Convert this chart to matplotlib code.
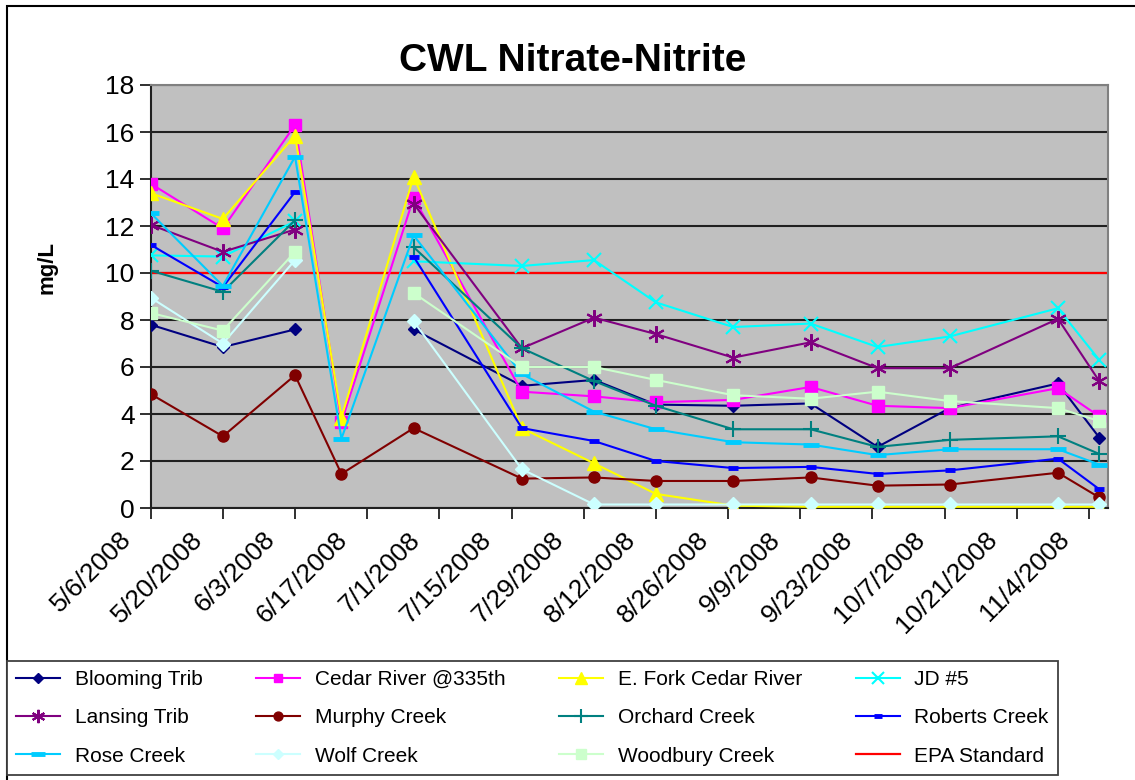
import datetime as dt
import numpy as np
import matplotlib
matplotlib.use("Agg")
import matplotlib.pyplot as plt
import matplotlib.dates as mdates
import matplotlib.transforms as mtransforms
from matplotlib.patches import Rectangle

plt.rcParams['font.family'] = ['Liberation Sans', 'DejaVu Sans']

nan = np.nan
dates = [dt.date(2008, 5, 6), dt.date(2008, 5, 20), dt.date(2008, 6, 3), dt.date(2008, 6, 12),
         dt.date(2008, 6, 26), dt.date(2008, 7, 17), dt.date(2008, 7, 31), dt.date(2008, 8, 12),
         dt.date(2008, 8, 27), dt.date(2008, 9, 11), dt.date(2008, 9, 24), dt.date(2008, 10, 8),
         dt.date(2008, 10, 29), dt.date(2008, 11, 6)]

blooming = [7.8, 6.85, 7.6, nan, 7.6, 5.2, 5.45, 4.4, 4.35, 4.45, 2.6, 4.25, 5.3, 3.0]
cedar = [13.8, 11.9, 16.3, 3.65, 13.2, 4.95, 4.75, 4.5, 4.6, 5.15, 4.35, 4.25, 5.1, 3.9]
efork = [13.4, 12.3, 15.85, 3.85, 14.1, 3.4, 1.9, 0.6, 0.1, 0.05, 0.05, 0.05, 0.05, 0.05]
jd5 = [10.75, 10.7, 12.2, nan, 10.5, 10.3, 10.55, 8.75, 7.7, 7.85, 6.85, 7.3, 8.5, 6.3]
lansing = [12.05, 10.9, 11.85, nan, 12.95, 6.8, 8.1, 7.4, 6.4, 7.05, 5.95, 5.95, 8.05, 5.4]
murphy = [4.85, 3.05, 5.65, 1.45, 3.4, 1.25, 1.3, 1.15, 1.15, 1.3, 0.95, 1.0, 1.5, 0.45]
orchard = [10.1, 9.2, 12.25, nan, 11.1, 6.8, 5.4, 4.35, 3.35, 3.35, 2.6, 2.9, 3.05, 2.3]
roberts = [11.2, 9.4, 13.45, nan, 10.7, 3.4, 2.85, 2.0, 1.7, 1.75, 1.45, 1.6, 2.1, 0.8]
rose = [12.55, 9.45, 14.95, 2.95, 11.6, 5.7, 4.1, 3.35, 2.8, 2.7, 2.25, 2.5, 2.5, 1.85]
wolf = [8.95, 7.0, 10.55, nan, 7.95, 1.65, 0.15, 0.15, 0.15, 0.15, 0.15, 0.15, 0.15, 0.15]
woodbury = [8.3, 7.55, 10.9, nan, 9.15, 6.0, 6.0, 5.45, 4.8, 4.65, 4.95, 4.55, 4.25, 3.7]
epa_standard = 10

names = ["Blooming Trib", "Cedar River @335th", "E. Fork Cedar River", "JD #5",
         "Lansing Trib", "Murphy Creek", "Orchard Creek", "Roberts Creek",
         "Rose Creek", "Wolf Creek", "Woodbury Creek"]
series = [blooming, cedar, efork, jd5, lansing, murphy, orchard, roberts, rose, wolf, woodbury]

# color, marker, markersize, marker edge width
styles = [
    ("#000080", "D", 6, 1),
    ("#FF00FF", "s", 8, 1),
    ("#FFFF00", "^", 10, 1),
    ("#00FFFF", "x", 10, 1.5),
    ("#800080", (6, 2, 0), 12, 1.5),
    ("#800000", "o", 8, 1),
    ("#008080", "+", 12, 1.5),
    ("#0000FF", "_", 7, 3.5),
    ("#00CCFF", "_", 12, 3.5),
    ("#CCFFFF", "D", 7, 1),
    ("#CCFFCC", "s", 9, 1),
]

fig = plt.figure(figsize=(11.35, 7.8), dpi=100)
ax = fig.add_axes([150.7 / 1135, 1 - 508 / 780, (1108 - 150.7) / 1135, (508 - 85) / 780])
ax.set_facecolor("#C0C0C0")

handles = []
for name, vals, (c, m, ms, mew) in zip(names, series, styles):
    h, = ax.plot(dates, vals, color=c, lw=1.5, marker=m, ms=ms, mew=mew,
                 mec=c, mfc=c, label=name, zorder=3)
    handles.append(h)
epa, = ax.plot([dates[0] - dt.timedelta(days=5), dates[-1] + dt.timedelta(days=10)],
               [epa_standard, epa_standard], color="#FF0000", lw=1.6, label="EPA Standard", zorder=2)
handles.append(epa)

x0 = mdates.date2num(dt.date(2008, 5, 6))
ax.set_xlim(x0, x0 + 185.7)
ax.set_ylim(0, 18)
ax.set_yticks(np.arange(0, 19, 2))
ax.yaxis.grid(True, color="#202020", lw=1.5)
ax.set_axisbelow(True)

ticks = [dt.date(2008, 5, 6) + dt.timedelta(days=14 * i) for i in range(14)]
ax.set_xticks(ticks)
ax.set_xticklabels([f"{d.month}/{d.day}/{d.year}" for d in ticks], rotation=45, ha="right")
ax.tick_params(axis="both", labelsize=19, direction="out", length=8, width=1.3, color="#202020")
ax.tick_params(axis="x", pad=6)
shift = mtransforms.ScaledTranslation(-15 / 100, 0, fig.dpi_scale_trans)
for lbl in ax.get_xticklabels():
    lbl.set_transform(lbl.get_transform() + shift)

for s in ["top", "right"]:
    ax.spines[s].set_color("#808080")
    ax.spines[s].set_linewidth(1.5)
for s in ["left", "bottom"]:
    ax.spines[s].set_color("#202020")
    ax.spines[s].set_linewidth(1.5)

fig.text(573 / 1135, 1 - 61 / 780, "CWL Nitrate-Nitrite", fontsize=28, fontweight="bold",
         ha="center", va="center")
fig.text(47 / 1135, 1 - 268 / 780, "mg/L", fontsize=16, fontweight="bold", rotation=90,
         ha="center", va="center")

# chart frame
fig.add_artist(Rectangle((7 / 1135, -0.02), 1.1, 1 - 6 / 780 + 0.02, transform=fig.transFigure,
                         fill=False, ec="black", lw=1.5))

order = [0, 4, 8, 1, 5, 9, 2, 6, 10, 3, 7, 11]
leg = fig.legend([handles[i] for i in order], [handles[i].get_label() for i in order],
                 ncol=4, loc="lower left", mode="expand",
                 bbox_to_anchor=(7 / 1135, 5 / 780, (1058 - 7) / 1135, 117 / 780),
                 fontsize=15, handlelength=2.1, handletextpad=0.7, labelspacing=0.93,
                 columnspacing=1.0, borderpad=0.45, borderaxespad=0, fancybox=False,
                 framealpha=1, edgecolor="#404040")
leg.get_frame().set_linewidth(1.3)
for lh in leg.legend_handles:
    lh.set_markersize(lh.get_markersize() * 0.8)

fig.savefig("out.png", dpi=100)
